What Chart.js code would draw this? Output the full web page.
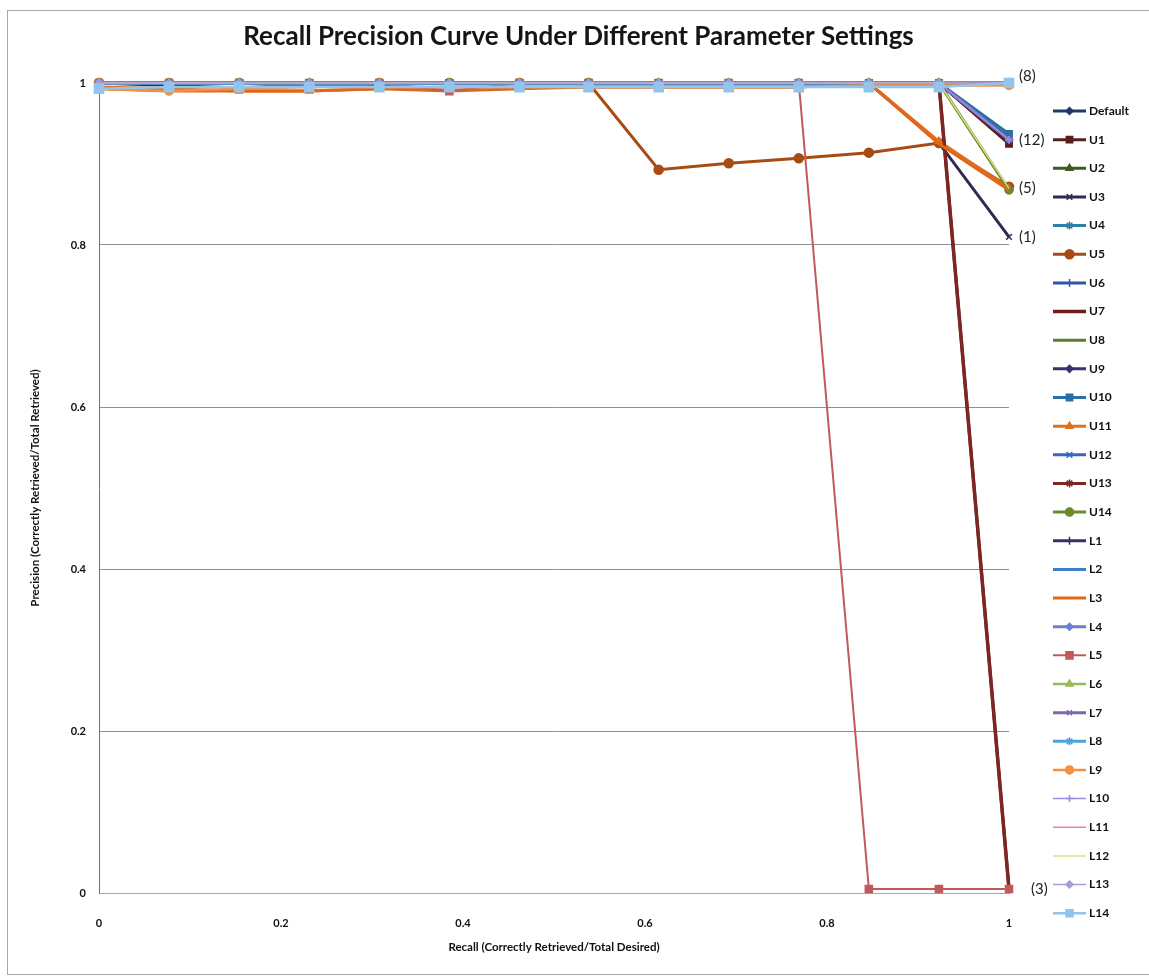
<!DOCTYPE html>
<html>
<head>
<meta charset="utf-8">
<title>Recall Precision Curve</title>
<script src="https://cdn.jsdelivr.net/npm/chart.js@4.4.1/dist/chart.umd.min.js"></script>
<style>
  html, body { margin: 0; padding: 0; background: #fff; }
  #wrap { width: 1149px; height: 977px; }
</style>
</head>
<body>
<div id="wrap"><canvas id="chart" width="1149" height="977"></canvas></div>
<script>
// recall levels (x) shared by every run
const recall = [0, 0.077, 0.154, 0.231, 0.308, 0.385, 0.462, 0.538, 0.615, 0.692, 0.769, 0.846, 0.923, 1];

const seriesNames = ["Default", "U1", "U2", "U3", "U4", "U5", "U6", "U7", "U8", "U9", "U10", "U11", "U12", "U13", "U14",
  "L1", "L2", "L3", "L4", "L5", "L6", "L7", "L8", "L9", "L10", "L11", "L12", "L13", "L14"];

// precision at each recall level
const precDefault = [1, 1, 1, 1, 1, 1, 1, 1, 1, 1, 1, 1, 1, 0.93];
const precU1  = [1, 0.997, 1, 1, 0.998, 1, 1, 1, 1, 1, 1, 1, 1, 0.925];
const precU2  = [1, 1, 1, 1, 1, 1, 1, 1, 1, 1, 1, 1, 1, 1];
const precU3  = [1, 1, 1, 1, 1, 1, 1, 1, 1, 1, 1, 1, 0.926, 0.81];
const precU4  = [1, 1, 1, 1, 1, 1, 1, 1, 1, 1, 1, 1, 1, 0.935];
const precU5  = [1, 1, 1, 0.995, 1, 1, 1, 1, 0.893, 0.901, 0.907, 0.914, 0.926, 0.872];
const precU6  = [1, 1, 1, 1, 1, 1, 1, 1, 1, 1, 1, 1, 1, 0.93];
const precU7  = [1, 1, 1, 1, 1, 1, 1, 1, 1, 1, 1, 1, 1, 0.005];
const precU8  = [1, 1, 1, 1, 1, 1, 1, 1, 1, 1, 1, 1, 1, 1];
const precU9  = [1, 1, 1, 1, 1, 1, 1, 1, 1, 1, 1, 1, 1, 0.93];
const precU10 = [1, 1, 1, 1, 1, 1, 1, 1, 1, 1, 1, 1, 1, 0.937];
const precU11 = [0.995, 0.993, 0.99, 0.99, 0.993, 0.995, 0.995, 0.995, 0.995, 0.995, 0.995, 1, 0.928, 0.87];
const precU12 = [1, 1, 1, 1, 1, 1, 1, 1, 1, 1, 1, 1, 1, 0.93];
const precU13 = [1, 1, 1, 1, 1, 1, 1, 1, 1, 1, 1, 1, 1, 0.005];
const precU14 = [1, 1, 1, 1, 1, 1, 1, 1, 1, 1, 1, 1, 1, 0.868];
const precL1  = [1, 1, 1, 1, 1, 1, 1, 1, 1, 1, 1, 1, 1, 0.93];
const precL2  = [1, 1, 1, 1, 1, 1, 1, 1, 1, 1, 1, 1, 1, 0.93];
const precL3  = [0.993, 0.99, 0.99, 0.99, 0.993, 0.99, 0.993, 0.995, 0.995, 0.995, 0.995, 1, 0.925, 0.868];
const precL4  = [1, 1, 1, 1, 1, 1, 1, 1, 1, 1, 1, 1, 1, 0.93];
const precL5  = [1, 1, 1, 1, 1, 0.99, 1, 1, 1, 1, 1, 0.005, 0.005, 0.005];
const precL6  = [1, 1, 1, 1, 1, 1, 1, 1, 1, 1, 1, 1, 1, 1];
const precL7  = [1, 1, 1, 1, 1, 1, 1, 1, 1, 1, 1, 1, 1, 0.93];
const precL8  = [1, 1, 1, 1, 1, 1, 1, 1, 1, 1, 1, 1, 1, 1];
const precL9  = [0.993, 0.99, 0.993, 0.995, 0.995, 0.995, 0.995, 0.995, 0.995, 0.995, 0.995, 0.997, 0.997, 0.997];
const precL10 = [1, 1, 1, 1, 1, 1, 1, 1, 1, 1, 1, 1, 1, 0.93];
const precL11 = [1, 1, 1, 1, 1, 1, 1, 1, 1, 1, 1, 1, 1, 1];
const precL12 = [1, 1, 1, 1, 1, 1, 1, 1, 1, 1, 1, 1, 1, 0.87];
const precL13 = [1, 1, 1, 1, 1, 1, 1, 1, 1, 1, 1, 1, 1, 1];
const precL14 = [0.993, 0.995, 0.995, 0.995, 0.995, 0.995, 0.995, 0.995, 0.995, 0.995, 0.995, 0.995, 0.995, 1];

const seriesValues = [precDefault, precU1, precU2, precU3, precU4, precU5, precU6, precU7, precU8, precU9,
  precU10, precU11, precU12, precU13, precU14, precL1, precL2, precL3, precL4, precL5, precL6, precL7,
  precL8, precL9, precL10, precL11, precL12, precL13, precL14];

// how many runs end at each level on the right edge
const groupTags = ["(8)", "(12)", "(5)", "(1)", "(3)"];
const groupLevels = [1, 0.93, 0.87, 0.81, 0.005];

const yTicks = [0, 0.2, 0.4, 0.6, 0.8, 1];

const chartTitle = "Recall Precision Curve Under Different Parameter Settings";

// styling
const seriesColors = ["#1f3a68", "#5a1e1c", "#3f5a1e", "#2f2a55", "#2e7fa6", "#a64c12", "#2d56a8", "#6e1c1c",
  "#5e7d2a", "#3e2f6e", "#2a6fa5", "#e0701a", "#3468c0", "#7e2626", "#6b8a2a", "#3a2d6a", "#3e7cc8",
  "#e2661a", "#6a7fd4", "#c05a5a", "#98bb55", "#7e67b0", "#4aa3de", "#f59040", "#9a8ee8", "#f07f98",
  "#d4e08a", "#a99ad8", "#93c4ec"];
const seriesMarkers = ["rectRot", "rect", "triangle", "crossRot", "star", "circle", "cross", null, null,
  "rectRot", "rect", "triangle", "crossRot", "star", "circle", "cross", null, null, "rectRot", "rect",
  "triangle", "crossRot", "star", "circle", "cross", null, null, "rectRot", "rect"];
const markerSizes = [3.5, 4.5, 4, 4, 4, 4.5, 4, 0, 0, 3.5, 4.5, 4, 4, 4, 4, 4, 0, 0, 3.5, 5, 4, 3.5, 4,
  4, 3.5, 0, 0, 3.5, 6.5];
const lineWidths = [3, 3, 3, 3, 3, 3, 3, 3.5, 3, 3, 3, 3, 3, 3, 3, 3, 3, 3, 3, 2, 2.5, 3, 3, 2.5, 1.5, 1.5,
  1.5, 1.5, 2.5];

const FONT = "Lato, 'Open Sans', sans-serif";

const datasets = seriesNames.map((name, i) => ({
  label: name,
  data: recall.map((r, k) => ({ x: r, y: seriesValues[i][k] })),
  borderColor: seriesColors[i],
  backgroundColor: seriesColors[i],
  borderWidth: lineWidths[i],
  pointStyle: seriesMarkers[i] || false,
  pointRadius: markerSizes[i],
  pointHoverRadius: markerSizes[i],
  pointBackgroundColor: seriesColors[i],
  pointBorderColor: seriesColors[i],
  pointBorderWidth: 1.5,
  tension: 0,
  fill: false,
  clip: false,
  order: -i
}));

// white page, thin frame and the heading centred on the page
const framePlugin = {
  id: "frame",
  beforeDraw(chart) {
    const ctx = chart.ctx;
    ctx.save();
    ctx.fillStyle = "#fff";
    ctx.fillRect(0, 0, chart.width, chart.height);
    ctx.strokeStyle = "#a8a8a8";
    ctx.lineWidth = 1;
    ctx.strokeRect(7.5, 10.5, chart.width + 10, 964);
    ctx.fillStyle = "#151515";
    ctx.font = "bold 26px " + FONT;
    ctx.textAlign = "center";
    ctx.textBaseline = "middle";
    ctx.fillText(chartTitle, chart.width / 2 + 4, 37);
    ctx.restore();
  }
};

// legend column: line sample with marker, then name
const sideLegend = {
  id: "sideLegend",
  afterDraw(chart) {
    const ctx = chart.ctx;
    const x0 = 1053, x1 = 1086, top = 111, step = 28.65;
    ctx.save();
    chart.data.datasets.forEach((ds, i) => {
      const y = top + i * step;
      ctx.strokeStyle = ds.borderColor;
      ctx.lineWidth = ds.borderWidth;
      ctx.beginPath();
      ctx.moveTo(x0, y);
      ctx.lineTo(x1, y);
      ctx.stroke();
      if (ds.pointStyle) {
        ctx.fillStyle = ds.pointBackgroundColor;
        ctx.strokeStyle = ds.pointBorderColor;
        ctx.lineWidth = 1.5;
        Chart.helpers.drawPoint(ctx, { pointStyle: ds.pointStyle, radius: Math.min(ds.pointRadius, 5), rotation: 0, borderWidth: 1.5 }, (x0 + x1) / 2, y);
      }
      ctx.fillStyle = "#111";
      ctx.font = "bold 12px " + FONT;
      ctx.textAlign = "left";
      ctx.textBaseline = "middle";
      ctx.fillText(ds.label, x1 + 3, y);
    });
    ctx.restore();
  }
};

// counts of runs ending at each level, right of the last recall point
const endTags = {
  id: "endTags",
  afterDraw(chart) {
    const ctx = chart.ctx;
    const xs = chart.scales.x, ys = chart.scales.y;
    const xEnd = xs.getPixelForValue(1);
    ctx.save();
    ctx.fillStyle = "#222";
    ctx.font = "15px " + FONT;
    ctx.textAlign = "left";
    ctx.textBaseline = "middle";
    groupTags.forEach((tag, i) => {
      let y = ys.getPixelForValue(groupLevels[i]);
      let x = xEnd + 10;
      if (i === 0) y -= 7;
      if (i === groupTags.length - 1) x = xEnd + 22;
      ctx.fillText(tag, x, y);
    });
    ctx.restore();
  }
};

new Chart(document.getElementById("chart").getContext("2d"), {
  type: "line",
  data: { datasets },
  options: {
    responsive: false,
    devicePixelRatio: 1,
    animation: false,
    layout: { padding: { left: 0, right: 140, top: 83, bottom: 0 } },
    plugins: {
      legend: { display: false },
      tooltip: { enabled: false },
      title: { display: false }
    },
    scales: {
      x: {
        type: "linear",
        min: 0,
        max: 1,
        grid: { display: false, drawTicks: false },
        border: { display: true, color: "#a4a4c8", width: 1 },
        ticks: {
          stepSize: 0.2,
          padding: 24,
          color: "#111",
          font: { family: FONT, size: 11, weight: "bold" },
          callback: v => String(+v.toFixed(1))
        },
        title: {
          display: true,
          text: "Recall (Correctly Retrieved/Total Desired)",
          color: "#111",
          font: { family: FONT, size: 11.5, weight: "bold" },
          padding: { top: 4, bottom: 23 }
        },
        afterFit: s => { s.height = 84; }
      },
      y: {
        min: 0,
        max: 1,
        afterBuildTicks: s => { s.ticks = yTicks.map(v => ({ value: v })); },
        grid: {
          drawTicks: false,
          color: ctx => (ctx.tick && ctx.tick.value === 0 ? "rgba(0,0,0,0)" : "#8e8e9c"),
          lineWidth: 1
        },
        border: { display: true, color: "#6f6f80", width: 1 },
        ticks: {
          padding: 13,
          color: "#111",
          font: { family: FONT, size: 11, weight: "bold" },
          callback: v => String(+v.toFixed(1))
        },
        title: {
          display: true,
          text: "Precision (Correctly Retrieved/Total Retrieved)",
          color: "#111",
          font: { family: FONT, size: 11.5, weight: "bold" },
          padding: { top: 28, bottom: 0 }
        },
        afterFit: s => { s.width = 99; }
      }
    }
  },
  plugins: [framePlugin, sideLegend, endTags]
});
</script>
</body>
</html>
